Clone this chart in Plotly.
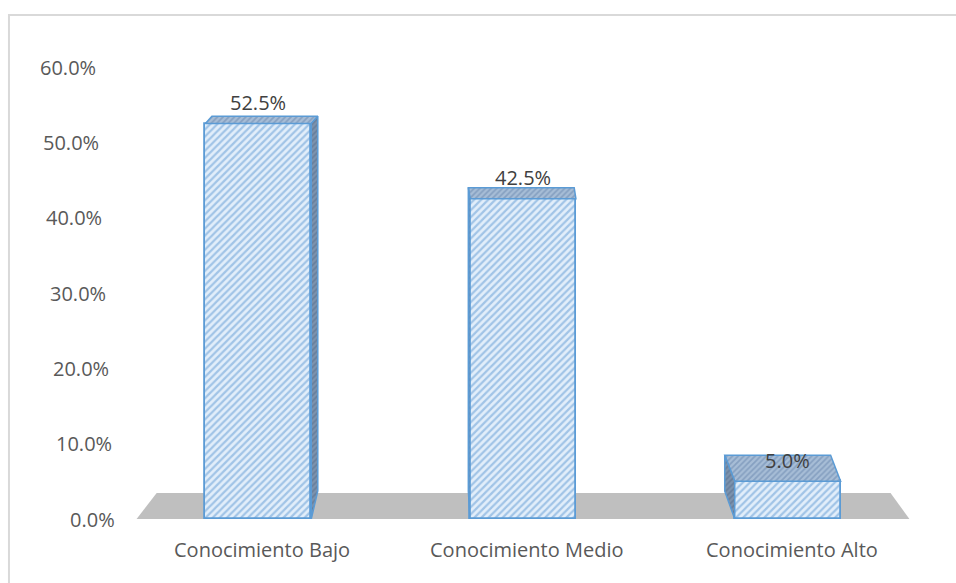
import plotly.graph_objects as go

# --- data -------------------------------------------------------------
categories = ["Conocimiento Bajo", "Conocimiento Medio", "Conocimiento Alto"]
percentages = [52.5, 42.5, 5.0]
tick_values = [0, 10, 20, 30, 40, 50, 60]
tick_labels = ["0.0%", "10.0%", "20.0%", "30.0%", "40.0%", "50.0%", "60.0%"]

# --- 3D look parameters (data units) -----------------------------------
X_RANGE = (-0.5, 2.5)
BAR_W = 0.4
VPX, VPY = 0.79, 70.6          # vanishing point used for the bar depth
SX, SY = 0.0312, 0.0526        # depth strength for bars
FLOOR_LEFT, FLOOR_RIGHT = -0.46, 2.46
FLOOR_VPX, FLOOR_SX, FLOOR_SY = 1.045, 0.0504, 0.049

EDGE = "#5b9bd5"
TEXT = "#595959"
FONT = "Open Sans"


def bar_shift(xc, y):
    return SX * (VPX - xc), SY * (VPY - y)


def floor_shift(x, y):
    return FLOOR_SX * (FLOOR_VPX - x), FLOOR_SY * (VPY - y)


def to_paper_x(x):
    return (x - X_RANGE[0]) / (X_RANGE[1] - X_RANGE[0])


fig = go.Figure()

# front faces of the bars
fig.add_trace(go.Bar(
    x=list(range(len(categories))), y=percentages, width=BAR_W,
    marker=dict(
        color="#dcebf9",
        line=dict(color=EDGE, width=1.8),
        pattern=dict(shape="/", fgcolor="#5f9ad3", bgcolor="#e2eefa",
                     size=5, solidity=0.45),
    ),
    hoverinfo="skip", showlegend=False,
))


def face(xs, ys, bg, fg):
    fig.add_trace(go.Scatter(
        x=xs + [xs[0]], y=ys + [ys[0]], mode="lines", fill="toself",
        fillcolor=bg,
        fillpattern=dict(shape="/", fgcolor=fg, bgcolor=bg, size=4, solidity=0.45),
        line=dict(color=EDGE, width=1.5),
        hoverinfo="skip", showlegend=False,
    ))


# top and side faces of the bars
for i, v in enumerate(percentages):
    left, right = i - BAR_W / 2, i + BAR_W / 2
    dx, dy_top = bar_shift(i, v)
    _, dy_bot = bar_shift(i, 0)
    face([left, right, right + dx, left + dx],
         [v, v, v + dy_top, v + dy_top], "#a7bdd6", "#6584ab")
    edge_x = right if dx > 0 else left
    face([edge_x, edge_x, edge_x + dx, edge_x + dx],
         [v, 0, dy_bot, v + dy_top], "#7d93ad", "#52698a")

# floor plane
fdx_l, fdy = floor_shift(FLOOR_LEFT, 0)
fdx_r, _ = floor_shift(FLOOR_RIGHT, 0)
floor_path = (f"M {FLOOR_LEFT},0 L {FLOOR_RIGHT},0 "
              f"L {FLOOR_RIGHT + fdx_r},{fdy} L {FLOOR_LEFT + fdx_l},{fdy} Z")
shapes = [
    dict(type="path", path=floor_path, xref="x", yref="y",
         fillcolor="#bfbfbf", line=dict(width=0), layer="below"),
    dict(type="rect", xref="paper", yref="paper",
         x0=-0.1474, x1=1.06, y0=-0.2, y1=1.115,
         line=dict(color="#d9d9d9", width=2), fillcolor="rgba(0,0,0,0)",
         layer="below"),
]

annotations = []
# value labels
for i, v in enumerate(percentages):
    annotations.append(dict(
        x=i, y=v, xref="x", yref="y", text=f"{v:.1f}%", showarrow=False,
        yshift=21, font=dict(family=FONT, size=20, color="#404040"),
    ))
# category labels
for i, c in enumerate(categories):
    annotations.append(dict(
        x=i, y=0, xref="x", yref="y", text=c, showarrow=False,
        yshift=-30, xshift=4, font=dict(family=FONT, size=20, color=TEXT),
    ))
# value axis labels, following the slanted front edge of the wall
for t, lab in zip(tick_values, tick_labels):
    annotations.append(dict(
        x=to_paper_x(-0.6057 + 0.0012 * (60 - t)), y=t, xref="paper", yref="y",
        text=lab, showarrow=False, xanchor="right",
        font=dict(family=FONT, size=20, color=TEXT),
    ))

fig.update_layout(
    width=956, height=583,
    margin=dict(l=126, r=36, t=67, b=64),
    paper_bgcolor="white", plot_bgcolor="white",
    xaxis=dict(range=list(X_RANGE), visible=False),
    yaxis=dict(range=[0, 60], visible=False),
    shapes=shapes, annotations=annotations,
    bargap=0,
)

fig.write_html("out.html")
